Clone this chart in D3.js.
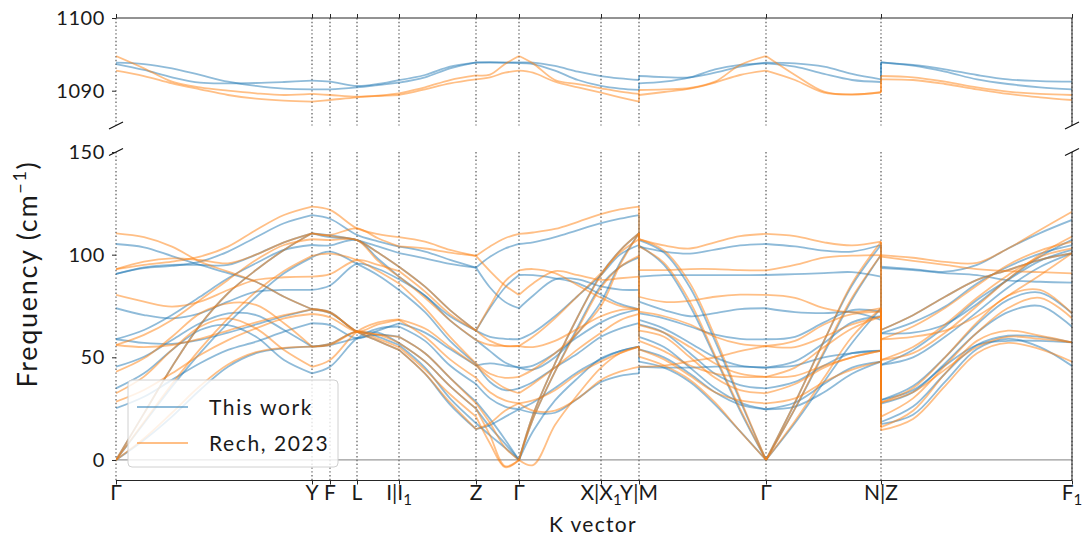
<!DOCTYPE html>
<html><head><meta charset="utf-8">
<script src="https://cdn.jsdelivr.net/npm/d3@7"></script>
<style>
html,body{margin:0;padding:0;background:#fff;}
svg{display:block;font-family:Lato,"Open Sans",sans-serif;}
</style></head><body>
<svg id="chart" width="1083" height="538"></svg>
<script>
// ---- k path: high-symmetry points and their labels ----
const symK = [0, 0.98, 1.07, 1.205, 1.415, 1.80, 2.015, 2.425, 2.615, 3.25, 3.825, 4.78];
const symLabels = ["Γ", "Y", "F", "L", "I|I_1", "Z", "Γ", "X|X_1", "Y|M", "Γ", "N|Z", "F_1"];
const seriesNames = ["This work", "Rech, 2023"];
const lowTicks = [0, 50, 100, 150];
const highTicks = [1090, 1100];

// ---- sample positions of each path segment ----
const kGY = [0, 0.14, 0.28, 0.42, 0.56, 0.70, 0.84, 0.98];          // Γ–Y
const kYI = [0.98, 1.07, 1.205, 1.31, 1.415];                        // Y–F–L–I
const kIZ = [1.415, 1.545, 1.67, 1.80];                              // I1–Z
const kZG = [1.80, 1.87, 1.945, 2.015];                              // Z–Γ
const kGXY = [2.015, 2.085, 2.195, 2.31, 2.425, 2.52, 2.615];        // Γ–X|X1–Y
const kMG = [2.615, 2.74, 2.87, 2.995, 3.12, 3.25];                  // M–Γ
const kGN = [3.25, 3.395, 3.54, 3.68, 3.825];                        // Γ–N
const kZF = [3.825, 3.985, 4.145, 4.305, 4.46, 4.62, 4.78];          // Z–F1

// ---- This work: acoustic/low optical branches (cm^-1) ----
const workGY = [
  [105.2,103.6,99.3,95.0,91.0,86.8,79.5,73.4],
  [90.6,93.4,94.5,96.6,101.5,108.5,115.3,119.3],
  [90.6,93.8,95.0,95.0,95.0,100.0,106.0,110.4],
  [0,22.7,45.4,65.7,81.2,92.5,102.3,110.4],
  [0,17.9,35.7,52.0,66.6,79.5,90.9,98.7],
  [73.9,70.6,69.0,71.4,77.1,82.0,82.8,82.8],
  [58.8,63.3,70.6,79.5,88.5,95.8,102.3,104.7],
  [45.4,50.3,58.4,66.6,71.4,70.6,63.3,55.2],
  [34.9,42.2,53.6,63.3,65.7,60.0,48.7,42.2],
  [25.2,30.8,39.0,47.1,53.6,57.6,62.5,66.6],
  [0,9.7,21.1,34.1,45.4,52.0,54.4,55.2],
  [58.8,57.0,56.5,58.5,62.0,66.0,70.0,73.4]
];
const workYI = [
  [119.3,117.5,109.6,106.5,103.9],
  [110.4,109.5,107.1,104.0,100.8],
  [110.4,108.5,107.1,101.0,94.1],
  [104.7,104.5,107.1,98.0,89.3],
  [98.7,101.5,95.5,90.0,82.8],
  [82.8,85.0,95.5,93.0,88.0],
  [73.4,71.5,62.5,58.0,53.6],
  [73.4,72.0,62.5,62.0,57.0],
  [66.6,65.7,59.3,63.0,66.6],
  [55.2,56.0,59.3,61.0,60.0],
  [55.2,56.5,62.5,60.0,56.0],
  [42.2,45.4,59.3,64.0,65.0]
];
const workIZ = [
  [103.9,101.5,97.5,93.7],
  [100.8,98.2,95.5,93.7],
  [94.1,84.4,73.0,63.0],
  [89.3,80.0,70.0,63.0],
  [88.0,80.0,68.0,58.4],
  [82.8,72.0,58.0,46.8],
  [66.6,62.0,54.0,46.0],
  [65.0,58.0,46.0,37.0],
  [60.0,52.0,40.0,28.4],
  [57.0,48.0,36.0,25.0],
  [56.0,45.0,30.0,17.9],
  [53.6,42.0,27.0,15.0]
];
const workZG = [
  [93.7,99.0,103.0,105.2],
  [93.7,84.0,77.0,73.9],
  [63.0,74.0,84.0,90.1],
  [63.0,60.0,59.0,58.8],
  [58.4,53.0,47.5,45.0],
  [46.8,38.0,34.0,34.9],
  [46.0,47.0,46.0,45.0],
  [37.0,30.0,26.0,24.7],
  [28.4,20.0,10.0,0],
  [25.0,16.0,8.0,0],
  [17.9,12.0,6.0,0],
  [15.0,17.0,21.0,24.7]
];
const workGXY = [
  [105.2,106.0,108.5,112.0,115.3,117.5,119.3],
  [73.9,80.0,88.0,88.0,84.5,83.0,82.8],
  [90.1,90.0,88.5,86.0,80.5,76.0,73.4],
  [58.8,62.0,70.0,80.0,90.0,100.0,104.7],
  [45.0,44.0,50.0,62.0,77.0,96.0,110.4],
  [0,22.0,47.0,70.0,90.5,102.0,110.4],
  [0,20.0,43.0,65.0,85.0,94.0,98.7],
  [0,14.0,29.0,40.0,49.5,53.0,55.2],
  [24.7,23.0,23.0,30.0,38.0,41.0,42.2],
  [34.9,38.0,45.0,52.0,60.0,64.0,66.6],
  [45.0,46.0,52.0,60.0,67.0,71.0,73.4],
  [24.7,28.0,35.0,43.0,49.0,53.0,55.2]
];
const workMG = [
  [103.9,101.5,100.5,102.5,104.5,105.2],
  [89.3,90.0,90.0,90.0,90.0,90.1],
  [77.1,73.0,70.0,71.5,73.5,73.9],
  [71.4,69.0,65.0,61.0,59.0,58.8],
  [68.2,64.0,57.0,50.0,46.0,45.0],
  [66.0,62.0,52.0,42.0,36.5,34.9],
  [53.9,50.0,42.0,33.0,27.0,24.7],
  [107.1,101.0,84.0,58.0,29.0,0],
  [104.5,95.0,75.0,50.0,24.0,0],
  [47.9,45.0,38.0,27.0,14.0,0],
  [45.4,45.0,45.0,45.5,45.5,45.0],
  [60.0,55.0,45.0,35.0,28.0,24.7]
];
const workGN = [
  [105.2,104.0,102.0,101.5,104.7],
  [90.1,90.5,91.0,91.5,89.3],
  [73.9,72.0,71.5,72.0,68.2],
  [58.8,60.0,67.0,73.0,72.2],
  [45.0,48.0,57.0,67.0,70.0],
  [34.9,38.0,46.0,52.0,53.2],
  [24.7,28.0,37.0,45.0,47.9],
  [0,28.0,58.0,85.0,104.7],
  [0,25.0,52.0,78.0,99.8],
  [0,18.0,38.0,57.0,73.9],
  [45.0,46.0,50.0,52.0,53.2],
  [24.7,26.0,33.0,42.0,47.9]
];
const workZF = [
  [94.1,93.0,91.7,95.0,103.0,110.5,116.9],
  [93.4,92.5,91.0,90.0,87.5,86.8,86.4],
  [63.3,70.5,79.5,87.7,92.5,97.5,100.7],
  [61.7,67.0,74.7,86.0,94.1,100.5,104.7],
  [46.3,53.6,64.9,77.9,87.7,97.0,102.3],
  [29.2,36.0,50.0,66.0,78.0,81.5,71.4],
  [27.5,33.0,47.0,62.0,72.0,75.0,64.9],
  [18.5,26.0,42.0,56.0,60.5,60.0,57.3],
  [17.5,22.0,38.0,54.0,59.0,55.0,45.8],
  [46.3,50.0,60.0,72.0,84.0,94.0,100.7],
  [61.7,62.0,66.0,76.0,88.0,99.0,107.2],
  [29.2,34.0,46.0,56.0,58.0,58.0,57.3]
];

// ---- Rech, 2023: acoustic/low optical branches (cm^-1) ----
const rechGY = [
  [110.4,108.5,103.9,96.6,91.7,86.8,79.5,73.4],
  [92.9,95.0,96.6,99.0,103.9,112.0,119.3,123.4],
  [92.9,96.6,98.2,97.4,95.8,100.0,106.0,110.4],
  [0,22.7,45.4,65.7,81.2,92.5,102.3,110.4],
  [0,18.5,37.0,54.0,69.0,82.0,92.0,99.4],
  [80.4,77.1,74.7,77.1,82.8,87.7,89.0,89.3],
  [56.0,60.9,68.2,77.9,87.7,97.4,104.7,107.5],
  [43.0,49.5,60.0,71.4,76.3,75.5,66.6,55.2],
  [32.5,40.6,53.6,64.9,69.0,64.1,53.6,45.4],
  [28.4,34.1,42.2,51.1,58.4,64.1,69.0,71.1],
  [0,10.5,23.0,36.0,46.5,52.5,54.6,55.2],
  [56.0,55.0,56.0,59.0,63.0,67.0,70.5,73.4]
];
const rechYI = [
  [123.4,121.8,112.8,110.0,108.5],
  [110.4,109.6,112.8,108.0,104.0],
  [110.4,109.0,107.1,101.0,94.1],
  [107.5,107.1,107.1,97.0,89.3],
  [99.4,100.5,97.4,92.0,86.0],
  [89.3,90.5,97.4,95.0,92.0],
  [73.4,71.6,62.5,58.0,53.6],
  [73.4,72.0,62.5,61.0,57.0],
  [71.1,69.5,62.5,66.0,68.2],
  [55.2,56.0,62.5,61.0,60.0],
  [55.2,56.5,62.5,59.0,55.0],
  [45.4,48.7,62.5,67.0,68.5]
];
const rechIZ = [
  [108.5,106.3,102.3,99.4],
  [104.0,103.0,101.0,99.4],
  [94.1,84.4,73.0,63.0],
  [92.0,82.0,71.0,63.0],
  [89.3,79.0,68.0,58.4],
  [86.0,74.0,60.0,47.0],
  [68.5,64.0,55.0,46.0],
  [68.2,60.0,49.0,40.0],
  [60.0,52.0,40.0,27.6],
  [57.0,48.0,36.0,25.0],
  [55.0,44.0,32.0,21.1],
  [53.6,42.0,28.0,15.0]
];
const rechZG = [
  [99.4,104.0,108.0,110.1],
  [99.4,92.0,85.0,80.4],
  [63.0,75.0,87.0,92.3],
  [63.0,58.0,55.5,55.5],
  [58.4,56.0,55.5,55.5],
  [47.0,42.0,40.0,40.5],
  [46.0,40.0,35.0,32.5],
  [40.0,33.0,29.0,27.6],
  [27.6,18.0,6.0,0],
  [25.0,12.0,-3.0,0],
  [21.1,8.0,-3.5,0],
  [15.0,18.0,24.0,27.6]
];
const rechGXY = [
  [110.1,110.8,112.5,116.0,119.7,122.0,123.4],
  [80.4,86.0,92.0,90.0,87.7,88.5,89.3],
  [92.3,93.0,91.0,85.0,79.0,75.0,73.4],
  [55.5,60.0,69.0,80.0,91.0,101.0,107.5],
  [55.5,55.0,58.0,64.0,70.0,73.0,73.4],
  [0,22.0,47.0,70.0,90.0,102.0,110.4],
  [0,20.0,43.0,64.0,84.0,94.0,99.4],
  [0,-2.5,17.0,32.0,45.0,52.0,55.2],
  [27.6,24.0,24.0,30.0,39.0,43.0,45.4],
  [40.5,44.0,52.0,62.0,75.0,95.0,110.4],
  [32.5,37.0,45.0,54.0,62.0,68.0,71.1],
  [27.6,29.0,34.0,42.0,48.0,52.0,55.2]
];
const rechMG = [
  [107.6,104.5,103.0,106.0,109.0,110.1],
  [92.5,92.5,93.0,93.0,92.5,92.3],
  [79.5,77.0,77.5,79.5,80.5,80.4],
  [72.2,70.0,66.0,60.0,56.5,55.5],
  [65.7,62.0,55.0,47.0,42.0,40.5],
  [63.0,60.0,50.0,40.0,34.0,32.5],
  [53.9,49.0,41.0,33.0,29.0,27.6],
  [107.6,102.0,86.0,60.0,30.0,0],
  [104.0,96.0,77.0,51.0,25.0,0],
  [50.3,46.0,39.0,28.0,14.0,0],
  [45.4,46.0,48.0,50.0,53.0,55.5],
  [58.0,53.0,46.0,42.0,40.5,40.5]
];
const rechGN = [
  [110.1,109.0,106.0,104.5,106.3],
  [92.3,95.0,98.5,99.5,99.8],
  [80.4,79.0,74.0,72.0,73.9],
  [55.5,58.0,66.0,71.0,72.2],
  [40.5,45.0,55.0,64.0,69.8],
  [32.5,37.0,45.0,50.0,53.2],
  [27.6,30.0,38.0,44.0,47.9],
  [0,28.0,58.0,86.0,106.3],
  [0,25.0,53.0,79.0,99.8],
  [0,19.0,40.0,60.0,73.9],
  [55.5,55.0,60.0,66.0,69.8],
  [40.5,41.0,46.0,50.0,53.2]
];
const rechZF = [
  [99.8,98.5,96.5,96.0,103.0,112.0,120.9],
  [99.0,97.0,95.0,93.0,92.0,91.5,90.9],
  [63.3,70.5,79.5,87.7,92.5,97.5,100.7],
  [58.8,65.0,74.0,85.0,95.0,102.0,106.3],
  [48.7,55.0,66.0,79.0,90.0,99.0,103.1],
  [28.0,35.0,50.0,67.0,80.0,82.8,71.4],
  [21.1,30.0,46.0,62.0,74.0,79.0,69.0],
  [16.0,24.0,42.0,58.0,63.0,60.5,57.3],
  [14.5,20.0,36.0,52.0,57.0,54.0,47.9],
  [48.7,52.0,62.0,75.0,88.0,100.0,108.8],
  [58.8,60.0,63.0,70.0,80.0,90.0,100.7],
  [28.0,33.0,44.0,55.0,60.0,59.0,57.3]
];

// ---- high-frequency branches near 1090 cm^-1 ----
const workHighGY = [[1093.86,1093.67,1093.08,1092.16,1091.24,1090.65,1090.28,1090.19],[1093.67,1092.85,1091.84,1091.11,1091.01,1091.06,1091.20,1091.38]];
const workHighYI = [[1090.19,1090.19,1090.46,1090.78,1091.11],[1091.38,1091.24,1090.65,1090.92,1091.47]];
const workHighIZ = [[1091.11,1091.84,1093.08,1093.90],[1091.47,1092.16,1093.31,1093.86]];
const workHighZG = [[1093.90,1093.92,1093.90,1093.90],[1093.86,1093.86,1093.84,1093.80]];
const workHighGXY = [[1093.90,1093.86,1093.40,1092.62,1092.02,1091.70,1091.47],[1093.80,1093.67,1092.76,1091.47,1090.65,1090.28,1090.10]];
const workHighMG = [[1092.02,1091.88,1091.84,1092.48,1093.31,1093.86],[1091.01,1091.24,1091.84,1092.94,1093.54,1093.76]];
const workHighGN = [[1093.86,1093.76,1093.31,1092.30,1091.56],[1093.76,1093.31,1092.30,1091.47,1091.20]];
const workHighZF = [[1093.90,1093.54,1092.94,1092.16,1091.56,1091.33,1091.24],[1093.90,1093.44,1092.62,1091.56,1090.92,1090.46,1090.19]];

const rechHighGY = [[1094.77,1093.08,1091.24,1090.46,1090.00,1089.64,1089.41,1089.55],[1092.76,1092.02,1091.01,1090.19,1089.41,1088.91,1088.63,1088.49]];
const rechHighYI = [[1089.55,1089.41,1089.18,1089.32,1089.64],[1088.49,1088.72,1089.09,1089.27,1089.41]];
const rechHighIZ = [[1089.64,1090.46,1091.47,1092.11],[1089.41,1090.19,1091.01,1091.56]];
const rechHighZG = [[1092.11,1092.21,1093.67,1094.77],[1091.56,1091.84,1092.48,1092.76]];
const rechHighGXY = [[1094.77,1093.76,1091.47,1090.92,1090.33,1089.87,1089.55],[1092.76,1092.48,1091.24,1090.46,1089.73,1089.09,1088.49]];
const rechHighMG = [[1090.10,1090.19,1090.37,1091.24,1093.54,1094.77],[1089.41,1089.82,1090.28,1091.11,1092.16,1092.76]];
const rechHighGN = [[1094.77,1092.16,1089.87,1089.46,1089.82],[1092.76,1091.47,1089.73,1089.50,1089.73]];
const rechHighZF = [[1092.02,1091.84,1091.24,1090.46,1089.87,1089.55,1089.41],[1091.56,1091.47,1090.92,1090.19,1089.55,1089.09,1088.72]];

// ---- assemble segments ----
const segKs = [kGY, kYI, kIZ, kZG, kGXY, kMG, kGN, kZF];
const lowData = [
  [workGY, workYI, workIZ, workZG, workGXY, workMG, workGN, workZF],
  [rechGY, rechYI, rechIZ, rechZG, rechGXY, rechMG, rechGN, rechZF]
];
const highData = [
  [workHighGY, workHighYI, workHighIZ, workHighZG, workHighGXY, workHighMG, workHighGN, workHighZF],
  [rechHighGY, rechHighYI, rechHighIZ, rechHighZG, rechHighGXY, rechHighMG, rechHighGN, rechHighZF]
];
// segment index pairs joined by a discontinuity (Y|M and N|Z)
const jumps = [[4, 5], [6, 7]];
const colors = ["#1f77b4", "#ff7f0e"];

// ---- layout ----
const svg = d3.select("#chart");
const X0 = 116, X1 = 1072;
const topPanel = {y0: 18, y1: 125.6};
const lowPanel = {y0: 152, y1: 480.5};
const ink = "#1a1a1a";

const x = d3.scaleLinear().domain([0, 4.78]).range([X0, X1]);
const yHigh = d3.scaleLinear().domain([1085.2, 1100]).range([topPanel.y1, topPanel.y0]);
const yLow = d3.scaleLinear().domain([-10, 150]).range([lowPanel.y1, lowPanel.y0]);

const defs = svg.append("defs");
defs.append("clipPath").attr("id", "clipTop").append("rect")
  .attr("x", X0).attr("y", topPanel.y0).attr("width", X1 - X0).attr("height", topPanel.y1 - topPanel.y0);
defs.append("clipPath").attr("id", "clipLow").append("rect")
  .attr("x", X0).attr("y", lowPanel.y0).attr("width", X1 - X0).attr("height", lowPanel.y1 - lowPanel.y0);

// zero-frequency reference line
svg.append("line")
  .attr("x1", X0).attr("x2", X1).attr("y1", yLow(0)).attr("y2", yLow(0))
  .attr("stroke", "#9a9a9a").attr("stroke-width", 1.3);

// dotted lines at high-symmetry points, through both panels
[topPanel, lowPanel].forEach(p => {
  svg.append("g").selectAll("line").data(symK).join("line")
    .attr("x1", d => x(d)).attr("x2", d => x(d))
    .attr("y1", p.y0).attr("y2", p.y1)
    .attr("stroke", "#707070").attr("stroke-width", 1.4)
    .attr("stroke-dasharray", "1.4,2.4");
});

function drawBands(group, data, yScale) {
  const line = d3.line().x(d => x(d[0])).y(d => yScale(d[1])).curve(d3.curveCatmullRom.alpha(0.5));
  data.forEach((segs, si) => {
    const g = group.append("g").attr("stroke", colors[si]);
    segs.forEach((curves, s) => {
      const ks = segKs[s];
      curves.forEach(c => {
        g.append("path").attr("d", line(c.map((v, i) => [ks[i], v])));
      });
    });
    // vertical connectors at the path discontinuities
    jumps.forEach(([a, b]) => {
      const kj = segKs[b][0];
      const ends = segs[a].map(c => c[c.length - 1]).sort(d3.ascending);
      const starts = segs[b].map(c => c[0]).sort(d3.ascending);
      ends.forEach((v, i) => {
        g.append("line").attr("x1", x(kj)).attr("x2", x(kj))
          .attr("y1", yScale(v)).attr("y2", yScale(starts[i]));
      });
    });
  });
}

const bandStyle = g => g.attr("fill", "none").attr("stroke-width", 1.8)
  .attr("stroke-opacity", 0.5).attr("stroke-linejoin", "round");
drawBands(svg.append("g").attr("clip-path", "url(#clipLow)").call(bandStyle), lowData, yLow);
drawBands(svg.append("g").attr("clip-path", "url(#clipTop)").call(bandStyle), highData, yHigh);

// ---- spines ----
const spine = {stroke: "#262626", "stroke-width": 1};
function seg(x1, y1, x2, y2, attrs) {
  const l = svg.append("line").attr("x1", x1).attr("y1", y1).attr("x2", x2).attr("y2", y2);
  Object.entries(attrs).forEach(([k, v]) => l.attr(k, v));
  return l;
}
seg(X0, topPanel.y0, X1, topPanel.y0, spine);
seg(X1, topPanel.y0, X1, topPanel.y1, spine);
seg(X0, lowPanel.y1, X1, lowPanel.y1, spine);
seg(X1, lowPanel.y0, X1, lowPanel.y1, spine);
// break marks
[[X0, topPanel.y1], [X1, topPanel.y1], [X0, lowPanel.y0], [X1, lowPanel.y0]].forEach(([cx, cy]) => {
  seg(cx - 7, cy + 3.5, cx + 7, cy - 3.5, {stroke: "#111", "stroke-width": 1.1});
});

// ---- axes ----
const yAxisLow = d3.axisLeft(yLow).tickValues(lowTicks).tickFormat(d3.format("d")).tickSize(4).tickPadding(7);
const yAxisHigh = d3.axisLeft(yHigh).tickValues(highTicks).tickFormat(d3.format("d")).tickSize(4).tickPadding(7);
[yAxisLow, yAxisHigh].forEach(ax => {
  const g = svg.append("g").attr("transform", `translate(${X0},0)`).call(ax);
  g.select(".domain").remove();
  g.selectAll(".tick line").attr("stroke", "#262626");
  g.selectAll(".tick text").attr("font-size", 20).attr("fill", ink)
    .attr("font-family", "Lato, 'Open Sans', sans-serif").attr("letter-spacing", 0.6);
});

// top axis: tick marks only
const xTop = svg.append("g").attr("transform", `translate(0,${topPanel.y0})`)
  .call(d3.axisTop(x).tickValues(symK).tickSize(4).tickFormat(""));
xTop.select(".domain").remove();
xTop.selectAll(".tick line").attr("stroke", "#262626");

// bottom axis with point labels
const xBot = svg.append("g").attr("transform", `translate(0,${lowPanel.y1})`)
  .call(d3.axisBottom(x).tickValues(symK).tickSize(4).tickFormat(""));
xBot.select(".domain").remove();
xBot.selectAll(".tick line").attr("stroke", "#262626");
const labelG = svg.append("g").attr("font-size", 21).attr("fill", ink).attr("text-anchor", "middle");
symK.forEach((k, i) => {
  const t = labelG.append("text").attr("x", x(k)).attr("y", 500);
  symLabels[i].split("_").forEach((part, j) => {
    const ts = t.append("tspan").text(part);
    if (j > 0) ts.attr("font-size", 15).attr("dy", 5);
  });
});

svg.append("text").attr("x", 593).attr("y", 532).attr("text-anchor", "middle")
  .attr("font-size", 21).attr("fill", ink).attr("letter-spacing", 1.3).text("K vector");

const yl = svg.append("text").attr("transform", "translate(37,274) rotate(-90)")
  .attr("text-anchor", "middle").attr("font-size", 27).attr("fill", ink)
  .attr("letter-spacing", 1.7);
yl.append("tspan").text("Frequency (cm");
yl.append("tspan").text("−1").attr("font-size", 18).attr("dy", -11);
yl.append("tspan").text(")").attr("dy", 11);

// ---- legend ----
const leg = svg.append("g").attr("transform", "translate(128,380)");
leg.append("rect").attr("width", 210).attr("height", 87).attr("rx", 4)
  .attr("fill", "#fff").attr("fill-opacity", 0.8).attr("stroke", "#d0d0d0").attr("stroke-width", 1);
seriesNames.forEach((name, i) => {
  const yy = 27 + i * 36;
  leg.append("line").attr("x1", 9).attr("x2", 60).attr("y1", yy).attr("y2", yy)
    .attr("stroke", colors[i]).attr("stroke-width", 1.8).attr("stroke-opacity", 0.5);
  leg.append("text").attr("x", 81).attr("y", yy).attr("dy", "0.36em")
    .attr("font-size", 21).attr("fill", ink).attr("letter-spacing", 1.6).text(name);
});
</script>
</body></html>
